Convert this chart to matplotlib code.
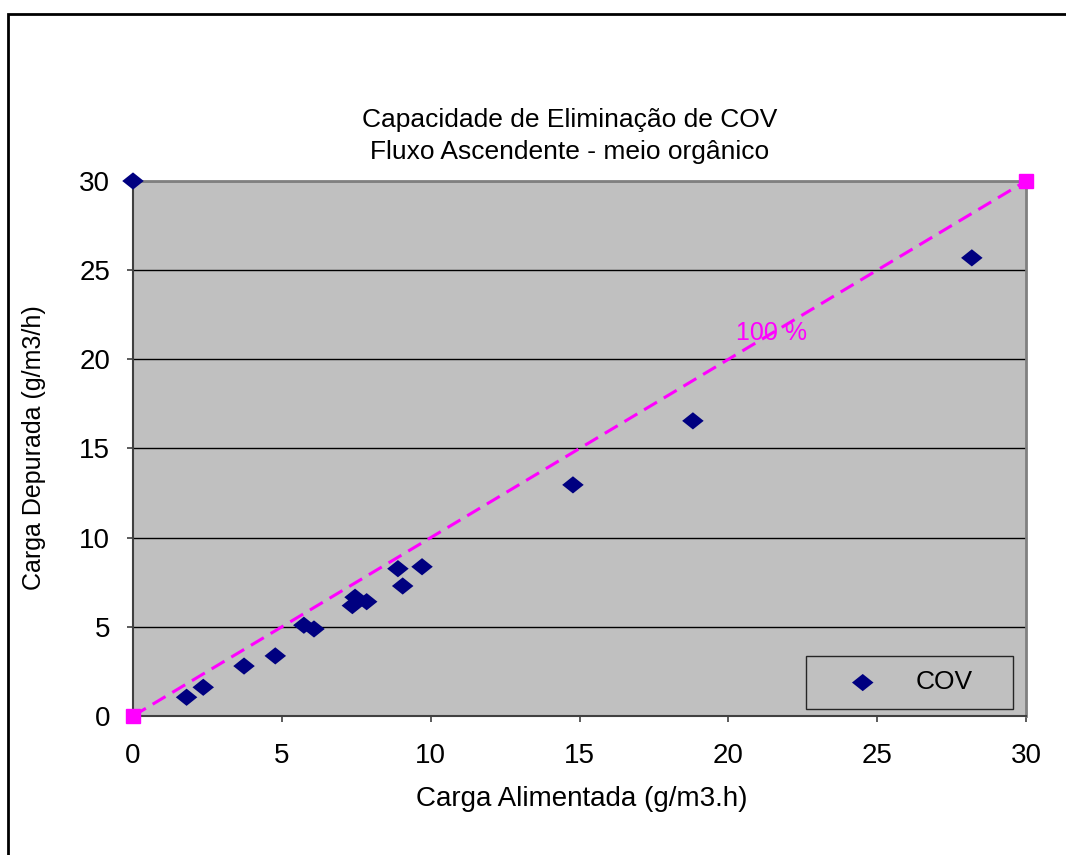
import matplotlib
matplotlib.use('Agg')
import matplotlib.pyplot as plt
from matplotlib.patches import Rectangle

# COV points
carga_alim = [0.0, 1.80, 2.36, 3.73, 4.78, 5.74, 6.08, 7.37, 7.46, 7.85,
              8.90, 9.06, 9.71, 14.78, 18.81, 28.18]
carga_dep = [30.0, 1.05, 1.61, 2.80, 3.37, 5.09, 4.88, 6.19, 6.66, 6.41,
             8.26, 7.29, 8.37, 12.96, 16.55, 25.69]

# 100 % line
ref_x = [0, 30]
ref_y = [0, 30]

titulo = ['Capacidade de Eliminação de COV', 'Fluxo Ascendente - meio orgânico']

W, H = 1066, 855


def main():
    plt.rcParams['font.family'] = ['Liberation Sans', 'DejaVu Sans']
    fig = plt.figure(figsize=(W / 100, H / 100), dpi=100)
    ax = fig.add_axes([133 / W, 1 - 716 / H, 893 / W, 535 / H])
    ax.set_facecolor('#c0c0c0')

    # flattened diamond like the Excel marker
    diamond = [(-1, 0), (0, 0.8), (1, 0), (0, -0.8), (-1, 0)]

    ax.plot(ref_x, ref_y, color='#ff00ff', ls=(0, (4.9, 2.6)), lw=2.2,
            marker='s', ms=10, clip_on=False, zorder=3)
    ax.scatter(carga_alim, carga_dep, marker=diamond, s=240, color='#000080',
               edgecolors='none', label='COV', clip_on=False, zorder=4)
    ax.text(21.45, 21.48, '100 %', color='#ff00ff', fontsize=18,
            ha='center', va='center')

    ax.set_xlim(0, 30)
    ax.set_ylim(0, 30)
    ax.set_xticks(range(0, 31, 5))
    ax.set_yticks(range(0, 31, 5))
    ax.yaxis.grid(True, color='black', lw=1)
    ax.set_axisbelow(True)
    ax.tick_params(labelsize=20, length=4.5, width=1.2, color='#404040')
    ax.tick_params(axis='x', pad=15)
    ax.tick_params(axis='y', pad=12)
    for side in ['top', 'right']:
        ax.spines[side].set_color('#808080')
        ax.spines[side].set_linewidth(2)
    for side in ['left', 'bottom']:
        ax.spines[side].set_color('#404040')
        ax.spines[side].set_linewidth(1.5)

    ax.set_xlabel('Carga Alimentada (g/m3.h)', fontsize=20)
    ax.xaxis.set_label_coords((582 - 133) / 893, -(799 - 716) / 535)
    ax.xaxis.label.set_va('center')
    ax.set_ylabel('Carga Depurada (g/m3/h)', fontsize=18)
    ax.yaxis.set_label_coords(-(133 - 34) / 893, (716 - 448) / 535)
    ax.yaxis.label.set_va('center')

    fig.text(570 / W, 1 - 127 / H, titulo[0], fontsize=19,
             ha='center', va='baseline')
    fig.text(570 / W, 1 - 159 / H, titulo[1], fontsize=19,
             ha='center', va='baseline')

    leg = ax.legend(loc='lower left',
                    bbox_to_anchor=((806 - 133) / 893, (716 - 709) / 535,
                                    207 / 893, 53 / 535),
                    mode='expand', fontsize=19, frameon=True, fancybox=False,
                    facecolor='#c0c0c0', edgecolor='black', scatterpoints=1,
                    borderpad=0.55, handlelength=3.2, handletextpad=0.4,
                    borderaxespad=0.0)
    leg.get_frame().set_linewidth(1)

    fig.patches.append(Rectangle((8 / W, -0.1), 1.2, 1 - 14 / H + 0.1,
                                 transform=fig.transFigure, fill=False,
                                 lw=2, edgecolor='black'))
    fig.savefig('out.png', dpi=100)


if __name__ == '__main__':
    main()
